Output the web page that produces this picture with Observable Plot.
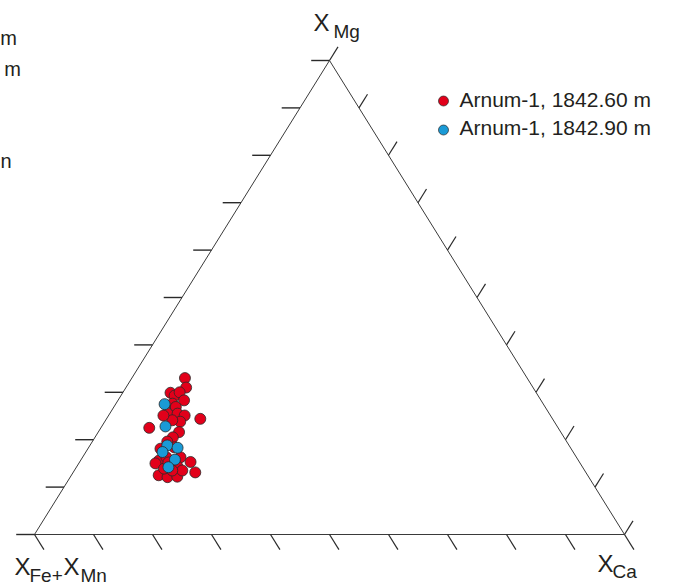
<!DOCTYPE html>
<html>
<head>
<meta charset="utf-8">
<script src="https://cdn.jsdelivr.net/npm/d3@7"></script>
<script src="https://cdn.jsdelivr.net/npm/@observablehq/plot@0.6"></script>
<style>
  html, body { margin: 0; padding: 0; background: #fff; }
  #chart { width: 678px; height: 587px; }
</style>
</head>
<body>
<div id="chart"></div>
<script>
// Sample names (legend) and colours
const samples = ["Arnum-1, 1842.60 m", "Arnum-1, 1842.90 m"];
const sampleColors = ["#e2001a", "#1a9ad6"];

// Vertex labels: [main letter, subscript]
const labelTop = ["X", "Mg"];
const labelLeft = ["X", "Fe+", "X", "Mn"];
const labelRight = ["X", "Ca"];

// Tick fractions along each side
const tickFractions = [0, 0.1, 0.2, 0.3, 0.4, 0.5, 0.6, 0.7, 0.8, 0.9, 1];

// Garnet compositions, 1842.60 m (XCa, XMg; XFe+XMn = remainder)
const redCa = [0.090, 0.102, 0.081, 0.091, 0.096, 0.112, 0.096, 0.105, 0.098, 0.115, 0.129, 0.128,
               0.113, 0.093, 0.159, 0.082, 0.137, 0.132, 0.145, 0.123, 0.133, 0.142, 0.166, 0.188,
               0.130, 0.170, 0.207, 0.148, 0.165, 0.181, 0.150, 0.183, 0.127, 0.151, 0.166];
const redMg = [0.330, 0.310, 0.299, 0.293, 0.300, 0.283, 0.276, 0.269, 0.255, 0.255, 0.251, 0.238,
               0.241, 0.251, 0.244, 0.225, 0.216, 0.205, 0.184, 0.181, 0.156, 0.163, 0.163, 0.153,
               0.150, 0.144, 0.131, 0.125, 0.121, 0.122, 0.139, 0.135, 0.196, 0.152, 0.135];

// Garnet compositions, 1842.90 m
const blueCa = [0.083, 0.108, 0.131, 0.151, 0.130, 0.159, 0.156];
const blueMg = [0.275, 0.228, 0.188, 0.183, 0.174, 0.158, 0.142];

// ---- build ternary table ----
function toPoints(ca, mg, sample) {
  return ca.map((c, i) => ({Ca: c, Mg: mg[i], FeMn: 1 - c - mg[i], sample}));
}
const points = [
  ...toPoints(redCa, redMg, samples[0]),
  ...toPoints(blueCa, blueMg, samples[1])
];
// cartesian projection: Fe+Mn at (0,0), Ca at (1,0), Mg at (0.5,1)
const px = d => d.Ca + d.Mg / 2;
const py = d => d.Mg;

const A = {Ca: 0, Mg: 0}; // Fe+Mn corner
const B = {Ca: 1, Mg: 0}; // Ca corner
const C = {Ca: 0, Mg: 1}; // Mg corner
const tri = [A, B, C, A];

const tLen = 0.032;   // slanted tick length (data units)
const hLen = 0.031;   // horizontal tick length (data units)

// left side ticks (constant Mg): horizontal outward
const leftTicks = tickFractions.map(f => ({x1: f / 2, y1: f, x2: f / 2 - hLen, y2: f}));
// bottom ticks: parallel to Mg–Ca edge, downward
const bottomTicks = tickFractions.map(f => ({x1: f, y1: 0, x2: f + tLen / 2, y2: -tLen}));
// right side ticks: parallel to Fe–Mg edge, outward
const rightTicks = tickFractions.map(f => {
  const x = 0.5 + f / 2, y = 1 - f;
  return {x1: x, y1: y, x2: x + tLen * 0.5 * 0.9, y2: y + tLen * 0.9};
});

const font = "'Liberation Sans', Arial, Helvetica, sans-serif";
const txt = "#231f20";
const subSize = 19;

const chart = Plot.plot({
  width: 678,
  height: 587,
  marginLeft: 34,
  marginRight: 54,
  marginTop: 60,
  marginBottom: 53,
  x: {domain: [0, 1], axis: null},
  y: {domain: [0, 1], axis: null},
  style: {fontFamily: font, background: "#fff", color: txt},
  marks: [
    // triangle
    Plot.line(tri, {x: px, y: py, stroke: "#3a3a3a", strokeWidth: 1}),
    // ticks
    Plot.link(leftTicks, {x1: "x1", y1: "y1", x2: "x2", y2: "y2", stroke: "#2a2a2a", strokeWidth: 1.4}),
    Plot.link(bottomTicks, {x1: "x1", y1: "y1", x2: "x2", y2: "y2", stroke: "#2a2a2a", strokeWidth: 1.2}),
    Plot.link(rightTicks, {x1: "x1", y1: "y1", x2: "x2", y2: "y2", stroke: "#2a2a2a", strokeWidth: 1.2}),
    // data points
    Plot.dot(points.filter(d => d.sample === samples[0]), {x: px, y: py, r: 5.5, fill: sampleColors[0], stroke: "#2a2a2a", strokeWidth: 0.8}),
    Plot.dot(points.filter(d => d.sample === samples[1]), {x: px, y: py, r: 5.5, fill: sampleColors[1], stroke: "#2a2a2a", strokeWidth: 0.8}),
    // vertex labels: top (Mg)
    Plot.text([C], {x: px, y: py, text: () => labelTop[0], textAnchor: "start", lineAnchor: "bottom", dx: -16, dy: -30, fontSize: 24, fill: txt}),
    Plot.text([C], {x: px, y: py, text: () => labelTop[1], textAnchor: "start", lineAnchor: "bottom", dx: 4, dy: -23, fontSize: subSize, fill: txt}),
    // left (Fe+Mn)
    Plot.text([A], {x: px, y: py, text: () => labelLeft[0], textAnchor: "start", lineAnchor: "bottom", dx: -20, dy: 40, fontSize: 24, fill: txt}),
    Plot.text([A], {x: px, y: py, text: () => labelLeft[1], textAnchor: "start", lineAnchor: "bottom", dx: -5, dy: 47, fontSize: subSize, fill: txt}),
    Plot.text([A], {x: px, y: py, text: () => labelLeft[2], textAnchor: "start", lineAnchor: "bottom", dx: 29, dy: 40, fontSize: 24, fill: txt}),
    Plot.text([A], {x: px, y: py, text: () => labelLeft[3], textAnchor: "start", lineAnchor: "bottom", dx: 46, dy: 47, fontSize: subSize, fill: txt}),
    // right (Ca)
    Plot.text([B], {x: px, y: py, text: () => labelRight[0], textAnchor: "start", lineAnchor: "bottom", dx: -27, dy: 37, fontSize: 24, fill: txt}),
    Plot.text([B], {x: px, y: py, text: () => labelRight[1], textAnchor: "start", lineAnchor: "bottom", dx: -12, dy: 43, fontSize: subSize, fill: txt}),
    // legend
    Plot.dot([samples[0]], {frameAnchor: "top-left", dx: 409, dy: 40.5, r: 5, fill: sampleColors[0], stroke: "#2a2a2a", strokeWidth: 0.7}),
    Plot.text([samples[0]], {frameAnchor: "top-left", text: d => d, textAnchor: "start", lineAnchor: "bottom", dx: 425, dy: 46.5, fontSize: 21, fill: txt}),
    Plot.dot([samples[1]], {frameAnchor: "top-left", dx: 409, dy: 69.5, r: 5, fill: sampleColors[1], stroke: "#2a2a2a", strokeWidth: 0.7}),
    Plot.text([samples[1]], {frameAnchor: "top-left", text: d => d, textAnchor: "start", lineAnchor: "bottom", dx: 425, dy: 74, fontSize: 21, fill: txt}),
    // fragments of a neighbouring panel's legend at the left edge
    Plot.text(["m"], {frameAnchor: "top-left", text: d => d, textAnchor: "end", lineAnchor: "bottom", dx: -17.5, dy: -16, fontSize: 20, fill: txt}),
    Plot.text(["m"], {frameAnchor: "top-left", text: d => d, textAnchor: "end", lineAnchor: "bottom", dx: -13.5, dy: 15, fontSize: 20, fill: txt}),
    Plot.text(["n"], {frameAnchor: "top-left", text: d => d, textAnchor: "start", lineAnchor: "bottom", dx: -34, dy: 107, fontSize: 20, fill: txt})
  ]
});
document.getElementById("chart").appendChild(chart);
</script>
</body>
</html>
